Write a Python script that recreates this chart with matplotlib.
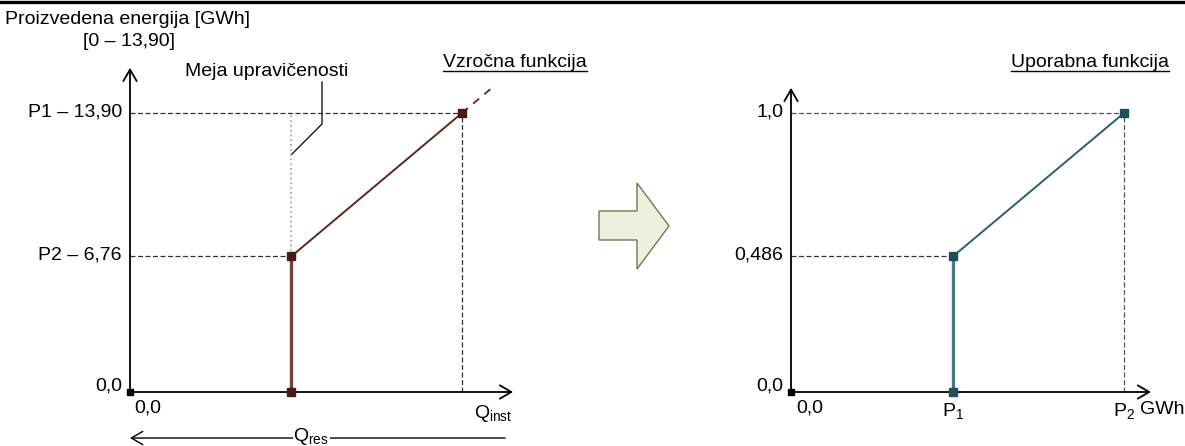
import matplotlib
matplotlib.use('Agg')
import matplotlib.pyplot as plt
from matplotlib.lines import Line2D
from matplotlib.patches import Polygon
import matplotlib.transforms as mtransforms

# --- data ---
q_res = 0.486          # Q_res as a share of Q_inst
q_inst = 1.0
energy_p2 = 6.76       # GWh
energy_p1 = 13.90      # GWh
cause_x = [q_res, q_res, q_inst]
cause_y = [0.0, energy_p2, energy_p1]
cause_tick_vals = [0.0, energy_p2, energy_p1]
cause_tick_labels = ['0,0', 'P2 – 6,76', 'P1 – 13,90']

util_x = [energy_p2, energy_p2, energy_p1]
util_y = [0.0, 0.486, 1.0]
util_tick_vals = [0.0, 0.486, 1.0]
util_tick_labels = ['0,0', '0,486', '1,0']
util_x_labels = ['0,0', 'P$_1$', 'P$_2$']

plt.rcParams['font.family'] = ['Liberation Sans', 'DejaVu Sans']
plt.rcParams['mathtext.fontset'] = 'custom'
plt.rcParams['mathtext.rm'] = 'Liberation Sans'
plt.rcParams['mathtext.it'] = 'Liberation Sans:italic'

W, H = 1185, 446
FS = 14
fig = plt.figure(figsize=(W / 100, H / 100), dpi=100)


def fx(x):
    return x / W


def fy(y):
    return 1 - y / H


def shifted(ax, dx, dy):
    return mtransforms.offset_copy(ax.transData, fig=fig, x=dx, y=dy, units='dots')


# thick rule at the top
fig.add_artist(Line2D([0, 1], [fy(1.5), fy(1.5)], color='black', lw=2.4))

dash = (0, (4, 2))
arrow_kw = dict(arrowstyle='->,head_length=0.55,head_width=0.32', color='black',
                lw=1.3, mutation_scale=15, shrinkA=0, shrinkB=0)

# ================= left: Vzrocna funkcija =================
ax1 = fig.add_axes([fx(130), fy(392), fx(332), 279 / H])
ax1.set_xlim(0, q_inst)
ax1.set_ylim(0, energy_p1)
ax1.axis('off')

ax1.annotate('', xy=(q_inst * 1.154, 0), xytext=(0, 0), arrowprops=arrow_kw,
             annotation_clip=False)
ax1.annotate('', xy=(0, energy_p1 * 1.162), xytext=(0, 0), arrowprops=arrow_kw,
             annotation_clip=False)

# guide lines
ax1.plot([0, q_inst], [energy_p1, energy_p1], color='#333333', lw=0.9, ls=dash, clip_on=False)
ax1.plot([0, q_res], [energy_p2, energy_p2], color='#333333', lw=0.9, ls=dash, clip_on=False)
ax1.plot([q_inst, q_inst], [0, energy_p1], color='#333333', lw=0.9, ls=dash, clip_on=False)
ax1.plot([q_res, q_res], [energy_p2, energy_p1], color='#aaaaaa', lw=1.3, ls=':', clip_on=False)

# the function
ax1.plot(cause_x[:2], cause_y[:2], color='#74453f', lw=2.4, clip_on=False, solid_capstyle='butt')
ax1.plot(cause_x[1:], cause_y[1:], color='#5b2823', lw=1.4, clip_on=False)
slope = (energy_p1 - energy_p2) / (q_inst - q_res)
ext = 0.1
ax1.plot([q_inst, q_inst + ext], [energy_p1, energy_p1 + slope * ext], color='#6a3530',
         lw=1.4, ls=(0, (4, 3.5)), clip_on=False)
ax1.plot(cause_x, cause_y, ls='none', marker='s', ms=5.8, color='#4a1a17', clip_on=False, zorder=5)
ax1.plot([0], [0], ls='none', marker='s', ms=5, color='black', clip_on=False, zorder=5)

for v, lab in zip(cause_tick_vals, cause_tick_labels):
    dy = 6 if v == 0 else 1
    ax1.text(0, v, lab, ha='right', va='center', fontsize=FS, transform=shifted(ax1, -8, dy))
ax1.text(0, 0, '0,0', ha='left', va='center', fontsize=FS, transform=shifted(ax1, 4, -16))
ax1.text(q_inst, 0, r'Q$_\mathrm{inst}$', ha='left', va='center', fontsize=FS,
         transform=shifted(ax1, 12, -21))

# Q_res arrow under the axis
ax1.annotate('', xy=(0, -energy_p1 * 0.165), xytext=(q_inst * 1.13, -energy_p1 * 0.165),
             arrowprops=dict(arrowstyle='->,head_length=0.55,head_width=0.32', color='black',
                             lw=1.0, mutation_scale=15, shrinkA=0, shrinkB=0),
             annotation_clip=False)
ax1.text(q_res + 0.06, -energy_p1 * 0.165, r'Q$_\mathrm{res}$', ha='center', va='center',
         fontsize=FS, bbox=dict(facecolor='white', edgecolor='none', pad=0.5), zorder=6,
         transform=shifted(ax1, 0, 2))

# y label
fig.text(fx(5), fy(20), 'Proizvedena energija [GWh]', ha='left', va='center', fontsize=FS)
fig.text(fx(129), fy(42), '[0 – 13,90]', ha='center', va='center', fontsize=FS)

# Meja upravicenosti annotation
fig.text(fx(267), fy(71), 'Meja upravičenosti', ha='center', va='center', fontsize=FS)
fig.add_artist(Line2D([fx(322), fx(322), fx(292)], [fy(82), fy(124), fy(154)],
                      color='black', lw=0.9))

# ================= right: Uporabna funkcija =================
ax2 = fig.add_axes([fx(791), fy(392), fx(333), 279 / H])
ax2.set_xlim(0, energy_p1)
ax2.set_ylim(0, 1.0)
ax2.axis('off')

ax2.annotate('', xy=(energy_p1 * 1.081, 0), xytext=(0, 0), arrowprops=arrow_kw,
             annotation_clip=False)
ax2.annotate('', xy=(0, 1.09), xytext=(0, 0), arrowprops=arrow_kw, annotation_clip=False)

ax2.plot([0, util_x[2]], [util_y[2], util_y[2]], color='#555555', lw=0.9, ls=dash, clip_on=False)
ax2.plot([0, util_x[1]], [util_y[1], util_y[1]], color='#333333', lw=0.9, ls=dash, clip_on=False)
ax2.plot([util_x[2], util_x[2]], [0, util_y[2]], color='#555555', lw=0.9, ls=dash, clip_on=False)

ax2.plot(util_x[:2], util_y[:2], color='#4b7883', lw=2.4, clip_on=False, solid_capstyle='butt')
ax2.plot(util_x[1:], util_y[1:], color='#2b5f6c', lw=1.4, clip_on=False)
ax2.plot(util_x, util_y, ls='none', marker='s', ms=5.8, color='#1f4f5b', clip_on=False, zorder=5)
ax2.plot([0], [0], ls='none', marker='s', ms=5, color='black', clip_on=False, zorder=5)

for v, lab in zip(util_tick_vals, util_tick_labels):
    dy = 6 if v == 0 else 1
    ax2.text(0, v, lab, ha='right', va='center', fontsize=FS, transform=shifted(ax2, -8, dy))
ax2.text(0, 0, util_x_labels[0], ha='left', va='center', fontsize=FS, transform=shifted(ax2, 5, -16))
ax2.text(util_x[0], 0, util_x_labels[1], ha='center', va='center', fontsize=FS,
         transform=shifted(ax2, 0, -19))
ax2.text(util_x[2], 0, util_x_labels[2], ha='center', va='center', fontsize=FS,
         transform=shifted(ax2, 0, -19))
ax2.text(util_x[2], 0, 'GWh', ha='left', va='center', fontsize=FS,
         transform=shifted(ax2, 16, -18))

# ================= titles with underline =================
titles = [(587, 'Vzročna funkcija'), (1169, 'Uporabna funkcija')]
title_artists = []
for xr, txt in titles:
    title_artists.append(fig.text(fx(xr), fy(67), txt, ha='right', va='baseline', fontsize=FS))
renderer = fig.canvas.get_renderer()
for t in title_artists:
    bb = t.get_window_extent(renderer)
    fig.add_artist(Line2D([bb.x0 / W, bb.x1 / W], [fy(71), fy(71)], color='black', lw=1.0))

# ================= middle block arrow =================
arrow_pts = [(599, 211), (637, 211), (637, 183), (669, 226), (637, 269), (637, 240), (599, 240)]
fig.add_artist(Polygon([(fx(x), fy(y)) for x, y in arrow_pts], closed=True,
                       facecolor='#ebf1de', edgecolor='#6e7a4e', lw=1.0,
                       transform=fig.transFigure))

fig.savefig('out.png', dpi=100)
